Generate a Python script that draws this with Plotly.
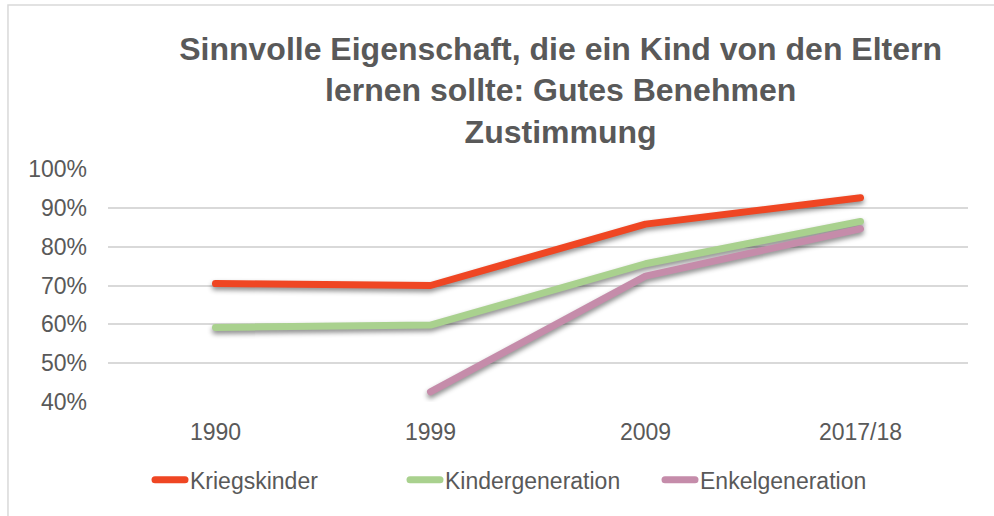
import plotly.graph_objects as go

categories = ["1990", "1999", "2009", "2017/18"]
kriegskinder = [0.705, 0.700, 0.858, 0.926]
kindergeneration = [0.592, 0.598, 0.756, 0.865]
enkelgeneration = [None, 0.426, 0.724, 0.846]

series_names = ["Kriegskinder", "Kindergeneration", "Enkelgeneration"]
series_colors = ["#EF4623", "#A9D18E", "#C58CAA"]
y_ticks = [0.4, 0.5, 0.6, 0.7, 0.8, 0.9, 1.0]

title_text = ("Sinnvolle Eigenschaft, die ein Kind von den Eltern<br>"
              "lernen sollte: Gutes Benehmen<br>Zustimmung")

FONT = "Liberation Sans, Arial, sans-serif"
GREY = "#595959"

fig = go.Figure()
for name, vals, col in zip(series_names,
                           [kriegskinder, kindergeneration, enkelgeneration],
                           series_colors):
    fig.add_trace(go.Scatter(
        x=categories, y=vals, name=name, mode="lines",
        line=dict(color=col, width=7),
        connectgaps=False,
    ))

fig.update_layout(
    width=994, height=516,
    margin=dict(l=108, r=26, t=169, b=114, autoexpand=False),
    paper_bgcolor="white", plot_bgcolor="white",
    font=dict(family=FONT, color=GREY, size=23),
    title=dict(
        text=title_text, xref="container", x=0.564, xanchor="center",
        yref="container", y=0.884, yanchor="top",
        font=dict(family=FONT, size=32, color=GREY, weight="bold"),
    ),
    showlegend=True,
    legend=dict(
        orientation="h", xref="container", x=150 / 994, xanchor="left",
        yref="container", y=0.07, yanchor="middle",
        font=dict(family=FONT, size=23, color=GREY),
        bgcolor="rgba(0,0,0,0)",
        entrywidth=210, entrywidthmode="pixels",
    ),
    xaxis=dict(
        type="category", range=[-0.5, 3.5], automargin=False,
        showgrid=False, zeroline=False, showline=False,
        tickfont=dict(family=FONT, size=23, color=GREY),
        ticklabelstandoff=14,
    ),
    yaxis=dict(
        range=[0.4, 1.0], tickvals=y_ticks, tickformat=".0%", automargin=False,
        showgrid=True, gridcolor="#D9D9D9", gridwidth=1.5,
        zeroline=False, showline=False,
        tickfont=dict(family=FONT, size=23, color=GREY),
        ticklabelstandoff=20,
    ),
    shapes=[dict(
        type="rect", xref="paper", yref="paper",
        x0=-0.1163, x1=2.0, y0=-2.0, y1=1.704,
        line=dict(color="#D9D9D9", width=1.5), layer="below",
    )],
)

post = """
document.body.style.margin = '0';
document.querySelectorAll('.js-line').forEach(function (p) {
  p.style.strokeLinecap = 'round';
  p.style.strokeLinejoin = 'round';
});
document.querySelectorAll('.scatterlayer').forEach(function (g) {
  g.style.filter = 'drop-shadow(0px 3px 2.5px rgba(0,0,0,0.45))';
});
"""

fig.write_html("out.html", post_script=post, config={"displayModeBar": False})
